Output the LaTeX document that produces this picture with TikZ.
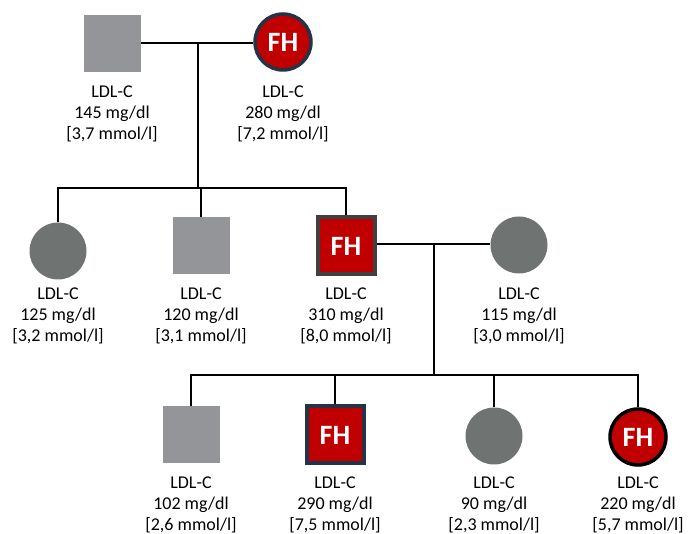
\documentclass[tikz,border=0pt]{standalone}
\usepackage{fontspec}
\setmainfont{Carlito}
\definecolor{fhred}{HTML}{C00000}
\definecolor{sqgray}{HTML}{939598}
\definecolor{cigray}{HTML}{6F7372}
\definecolor{navy}{HTML}{243446}
\definecolor{dgray}{HTML}{404040}
\begin{document}
\begin{tikzpicture}[x=1pt,y=-1pt,
  male/.style={rectangle,fill=sqgray,minimum size=57pt,inner sep=0pt},
  female/.style={circle,fill=cigray,minimum size=57pt,inner sep=0pt},
  fhmale/.style={rectangle,fill=fhred,draw=#1,line width=4pt,minimum size=57pt,inner sep=0pt,
    text=white,font=\fontsize{28}{30}\selectfont\bfseries},
  fhfemale/.style={circle,fill=fhred,draw=#1,line width=3.5pt,minimum size=56pt,inner sep=0pt,
    text=white,font=\fontsize{28}{30}\selectfont\bfseries},
  info/.style={align=center,inner sep=0pt,font=\fontsize{18}{21}\selectfont},
  link/.style={line width=2.4pt,black}]
\fill[white] (0,0) rectangle (689,534);
\useasboundingbox (0,0) rectangle (689,534);

% first generation
\node[male] (g1m) at (112,44) {};
\node[fhfemale=navy] (g1f) at (283,42) {FH};
\coordinate (c1) at (198,43);
\coordinate (s1) at (198,188);
\draw[link] (g1m.east |- c1) -- (g1f.west |- c1);
\draw[link] (c1) -- (s1);

% second generation
\node[female] (g2a) at (58,251) {};
\node[male] (g2b) at (201,246) {};
\node[fhmale=dgray] (g2c) at (346,246) {FH};
\node[female] (g2d) at (519,245) {};
\coordinate (s1l) at (58,188);
\coordinate (s1r) at (346,188);
\draw[link] (g2a.north) -- (s1l) -- (s1r) -- (g2c.north);
\draw[link] (g2b.north) -- (g2b.north |- s1);
\coordinate (c2) at (434,244);
\coordinate (s2) at (434,375);
\draw[link] (g2c.east |- c2) -- (g2d.west |- c2);
\draw[link] (c2) -- (s2);

% third generation
\node[male] (g3a) at (191,435) {};
\node[fhmale=navy] (g3b) at (335,435) {FH};
\node[female] (g3c) at (494,436) {};
\node[fhfemale=black] (g3d) at (638,437) {FH};
\coordinate (s2l) at (191,375);
\coordinate (s2r) at (638,375);
\draw[link] (g3a.north) -- (s2l) -- (s2r) -- (g3d.north);
\draw[link] (g3b.north) -- (g3b.north |- s2);
\draw[link] (g3c.north) -- (g3c.north |- s2);

% LDL-C values
\node[info] (t1m) at (112,114) {LDL-C\\145 mg/dl\\{[3,7 mmol/l]}};
\node[info] (t1f) at (283,114) {LDL-C\\280 mg/dl\\{[7,2 mmol/l]}};
\node[info] (t2a) at (58,316) {LDL-C\\125 mg/dl\\{[3,2 mmol/l]}};
\node[info] (t2b) at (201,316) {LDL-C\\120 mg/dl\\{[3,1 mmol/l]}};
\node[info] (t2c) at (346,316) {LDL-C\\310 mg/dl\\{[8,0 mmol/l]}};
\node[info] (t2d) at (519,316) {LDL-C\\115 mg/dl\\{[3,0 mmol/l]}};
\node[info] (t3a) at (191,505) {LDL-C\\102 mg/dl\\{[2,6 mmol/l]}};
\node[info] (t3b) at (335,505) {LDL-C\\290 mg/dl\\{[7,5 mmol/l]}};
\node[info] (t3c) at (494,505) {LDL-C\\90 mg/dl\\{[2,3 mmol/l]}};
\node[info] (t3d) at (638,505) {LDL-C\\220 mg/dl\\{[5,7 mmol/l]}};
\end{tikzpicture}
\end{document}
